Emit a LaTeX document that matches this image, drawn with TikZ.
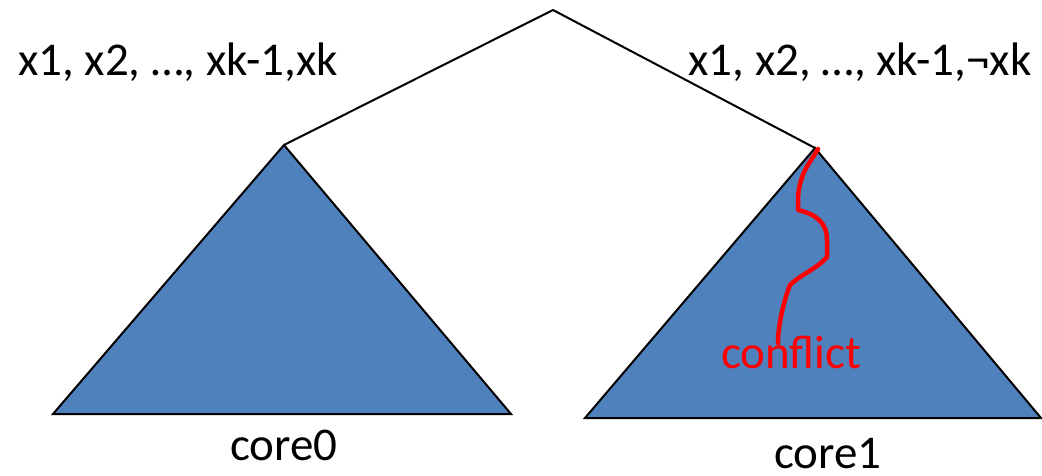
\documentclass[tikz,border=0pt]{standalone}
\usepackage{fontspec}
\setmainfont{Carlito}
\definecolor{coreblue}{RGB}{79,129,189}
\begin{document}
\begin{tikzpicture}[x=1pt,y=-1pt,
	lbl/.style={font=\fontsize{47}{56}\selectfont,inner sep=0pt},
	core/.style={draw=black,line width=2pt,fill=coreblue,line join=miter},
	branch/.style={line width=2pt}]
		\useasboundingbox (0,0) rectangle (1042,476);
		\coordinate (root) at (553,10);
		\coordinate (top0) at (284,145);
		\coordinate (top1) at (815,148);
		\draw[core] (top0)--(53,414)--(511,414)--cycle;
		\draw[core] (top1)--(585,418)--(1041,418)--cycle;
		\draw[branch] (top0)--(root)--(top1);
		\node[lbl] (lab0) at (178,62) {x1, x2, …, xk-1,xk};
		\node[lbl] (lab1) at (860,62) {x1, x2, …, xk-1,¬xk};
		\node[lbl] (core0) at (284,445) {core0};
		\node[lbl] (core1) at (828,454) {core1};
		\node[lbl,red] (confl) at (791,352) {conflict};
		\draw[red,line width=4.5pt,line cap=round,line join=round]
		(818,149)..controls (810,163) and (800,172)..(798,197)
		--(798,210)..controls (815,214) and (827,222)..(827,240)
		--(827,257)..controls (818,268) and (800,275)..(790,285)
		..controls (784,300) and (778,325)..(778,343);
		\end{tikzpicture}
\end{document}
